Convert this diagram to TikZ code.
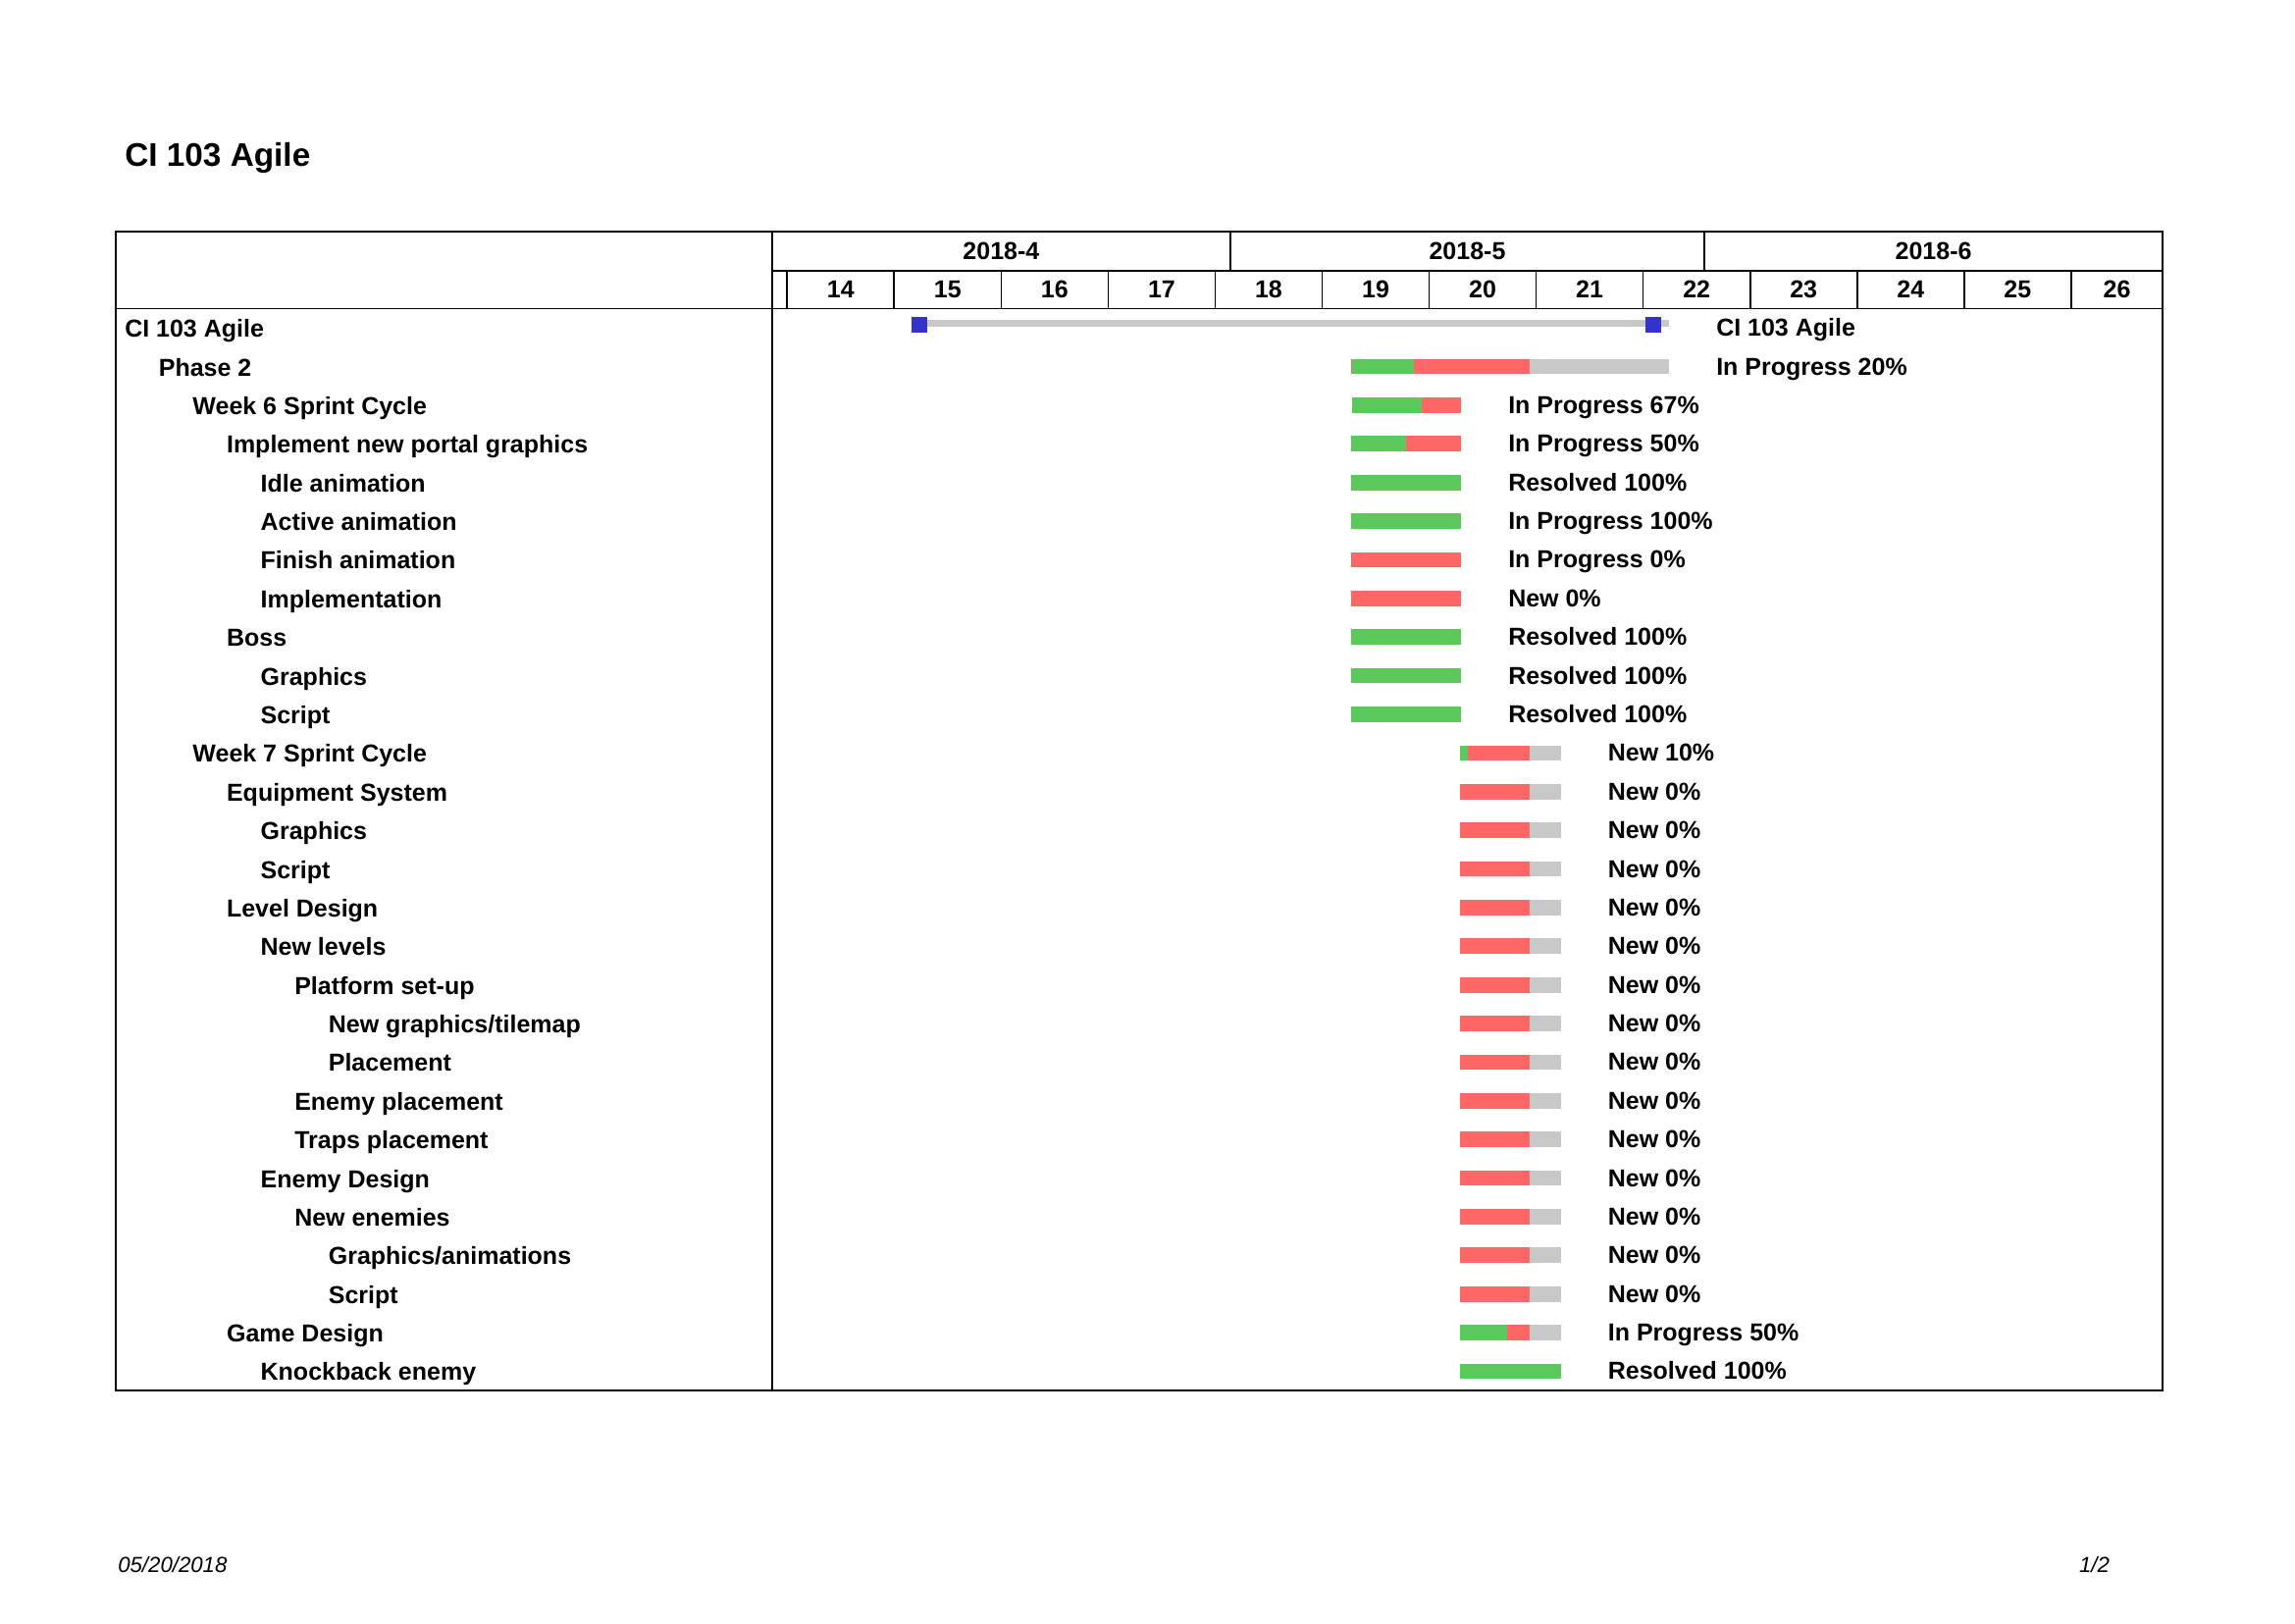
\documentclass[tikz,border=0pt]{standalone}
\usepackage{fontspec}
\setmainfont{Liberation Sans}
\definecolor{gGreen}{RGB}{90,200,90}
\definecolor{gRed}{RGB}{255,102,102}
\definecolor{gGrey}{RGB}{200,200,200}
\definecolor{gBlue}{RGB}{51,51,204}
\tikzset{
  lbl/.style={anchor=base west, inner sep=0pt, font=\bfseries\fontsize{9}{11}\selectfont},
  hdr/.style={anchor=base, inner sep=0pt, font=\bfseries\fontsize{9}{11}\selectfont},
  gridline/.style={line width=0.6pt, black},
}
\newcommand{\ganttrow}[5]{%
  \pgfmathsetmacro\cy{314.5+(#1-0.5)*39.38}%
  \node[lbl] (L#1) at ({126.7+34.6*#2},{\cy+9.5}) {#3};%
  \node[lbl] (S#1) at (#5,{\cy+8.5}) {#4};%
}
\newcommand{\ganttbar}[4]{%
  \pgfmathsetmacro\cy{314.5+(#1-0.5)*39.38}%
  \fill[#4] (#2,{\cy-7.85}) rectangle (#3,{\cy+7.85});%
}
\begin{document}
\begin{tikzpicture}[x=0.36pt,y=-0.36pt]
\useasboundingbox (0,0) rectangle (2339,1654);
% title
\node[anchor=base west, inner sep=0pt, font=\bfseries\fontsize{12}{14}\selectfont] (title) at (126.8,169.5) {CI 103 Agile};
% footer
\node[anchor=base west, inner sep=0pt, font=\itshape\fontsize{8}{10}\selectfont] (date) at (119.7,1602.3) {05/20/2018};
\node[anchor=base east, inner sep=0pt, font=\itshape\fontsize{8}{10}\selectfont] (page) at (2150.5,1602.3) {1/2};
% frame and grid
\draw[gridline] (117.7,235.7) rectangle (2204.3,1417.3);
\draw[gridline] (786.7,235.7) -- (786.7,1417.3);
\draw[gridline] (786.7,275.7) -- (2204.3,275.7);
\draw[gridline] (117.7,314.5) -- (2204.3,314.5);
\draw[gridline] ({786.7+30*15.578},235.7) -- ({786.7+30*15.578},275.7);
\draw[gridline] ({786.7+61*15.578},235.7) -- ({786.7+61*15.578},275.7);
\foreach \k in {0,...,12}{
  \draw[gridline] ({786.7+(1+7*\k)*15.578},275.7) -- ({786.7+(1+7*\k)*15.578},314.5);
}
% month labels
\node[hdr] (m4) at (1020.4,264.3) {2018-4};
\node[hdr] (m5) at (1495.5,264.3) {2018-5};
\node[hdr] (m6) at (1970.6,264.3) {2018-6};
% week labels
\foreach \k in {0,...,11}{
  \pgfmathtruncatemacro\wk{14+\k}
  \node[hdr] (w\wk) at ({786.7+(4.5+7*\k)*15.578},303.3) {\wk};
}
\node[hdr] (w26) at ({786.7+88*15.578},303.3) {26};
% summary row
\fill[gGrey] (929,326) rectangle (1700.7,332.7);
\fill[gBlue] (929,323) rectangle (945,338.7);
\fill[gBlue] (1677,323) rectangle (1692.7,338.7);
% bars
\ganttbar{2}{1376.7}{1558.7}{gRed}
\ganttbar{2}{1558.7}{1700.7}{gGrey}
\ganttbar{2}{1377.7}{1440.7}{gGreen}
\ganttbar{3}{1378}{1488.7}{gRed}
\ganttbar{3}{1378}{1448.7}{gGreen}
\ganttbar{4}{1376.7}{1488.7}{gRed}
\ganttbar{4}{1376.7}{1432.7}{gGreen}
\foreach \r in {5,6,9,10,11}{\ganttbar{\r}{1377}{1488.7}{gGreen}}
\foreach \r in {7,8}{\ganttbar{\r}{1377}{1488.7}{gRed}}
\foreach \r in {12,...,27}{
  \ganttbar{\r}{1488}{1559}{gRed}
  \ganttbar{\r}{1559}{1590.7}{gGrey}
}
\ganttbar{12}{1488}{1496}{gGreen}
\ganttbar{27}{1488}{1536}{gGreen}
\ganttbar{28}{1488}{1590.7}{gGreen}
% rows
\ganttrow{1}{0}{CI 103 Agile}{CI 103 Agile}{1748.7}
\ganttrow{2}{1}{Phase 2}{In Progress 20\%}{1748.7}
\ganttrow{3}{2}{Week 6 Sprint Cycle}{In Progress 67\%}{1536.7}
\ganttrow{4}{3}{Implement new portal graphics}{In Progress 50\%}{1536.7}
\ganttrow{5}{4}{Idle animation}{Resolved 100\%}{1536.7}
\ganttrow{6}{4}{Active animation}{In Progress 100\%}{1536.7}
\ganttrow{7}{4}{Finish animation}{In Progress 0\%}{1536.7}
\ganttrow{8}{4}{Implementation}{New 0\%}{1536.7}
\ganttrow{9}{3}{Boss}{Resolved 100\%}{1536.7}
\ganttrow{10}{4}{Graphics}{Resolved 100\%}{1536.7}
\ganttrow{11}{4}{Script}{Resolved 100\%}{1536.7}
\ganttrow{12}{2}{Week 7 Sprint Cycle}{New 10\%}{1638.3}
\ganttrow{13}{3}{Equipment System}{New 0\%}{1638.3}
\ganttrow{14}{4}{Graphics}{New 0\%}{1638.3}
\ganttrow{15}{4}{Script}{New 0\%}{1638.3}
\ganttrow{16}{3}{Level Design}{New 0\%}{1638.3}
\ganttrow{17}{4}{New levels}{New 0\%}{1638.3}
\ganttrow{18}{5}{Platform set-up}{New 0\%}{1638.3}
\ganttrow{19}{6}{New graphics/tilemap}{New 0\%}{1638.3}
\ganttrow{20}{6}{Placement}{New 0\%}{1638.3}
\ganttrow{21}{5}{Enemy placement}{New 0\%}{1638.3}
\ganttrow{22}{5}{Traps placement}{New 0\%}{1638.3}
\ganttrow{23}{4}{Enemy Design}{New 0\%}{1638.3}
\ganttrow{24}{5}{New enemies}{New 0\%}{1638.3}
\ganttrow{25}{6}{Graphics/animations}{New 0\%}{1638.3}
\ganttrow{26}{6}{Script}{New 0\%}{1638.3}
\ganttrow{27}{3}{Game Design}{In Progress 50\%}{1638.3}
\ganttrow{28}{4}{Knockback enemy}{Resolved 100\%}{1638.3}
\end{tikzpicture}
\end{document}
